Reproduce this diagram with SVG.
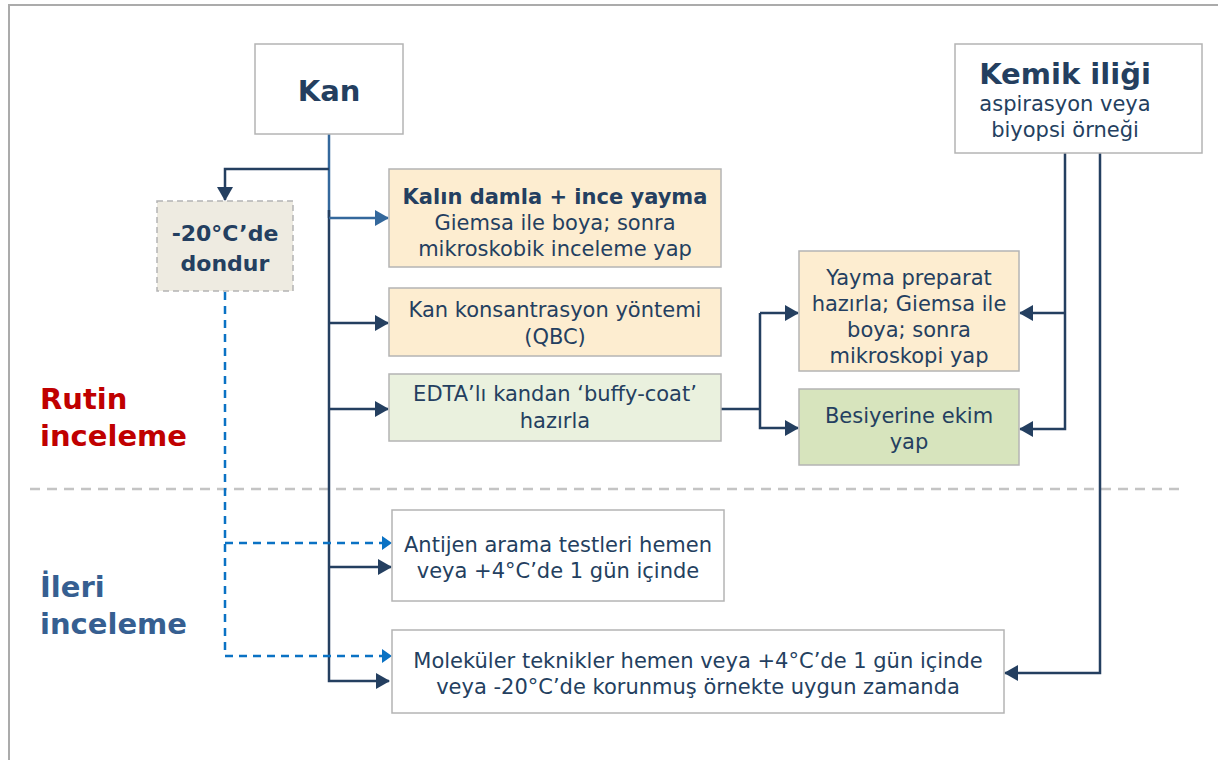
<svg xmlns="http://www.w3.org/2000/svg" width="1218" height="760" viewBox="0 0 1218 760">
  <style>
    .box { stroke: #b4b4b4; stroke-width: 1.5; }
    .white { fill: #ffffff; }
    .peach { fill: #fdedd0; }
    .pale { fill: #eaf1de; }
    .green { fill: #d7e4bd; }
    .frozen { fill: #eeebe1; stroke-dasharray: 6 4; }
    text { font-family: "DejaVu Sans", Verdana, sans-serif; fill: #243f60; text-anchor: middle; }
    .t { font-size: 21px; }
    .b { font-weight: bold; }
    .wire { fill: none; stroke: #243f60; stroke-width: 2.5; }
    .wire2 { fill: none; stroke: #34689c; stroke-width: 2.5; }
    .dash { fill: none; stroke: #0a72c4; stroke-width: 2.5; stroke-dasharray: 8 6; }
    .side { font-size: 29px; font-weight: bold; text-anchor: start; }
  </style>
  <defs>
    <marker id="ah" markerUnits="userSpaceOnUse" markerWidth="14" markerHeight="16" refX="13" refY="8" orient="auto">
      <path d="M0,0 L14,8 L0,16 Z" fill="#243f60"/>
    </marker>
    <marker id="ah2" markerUnits="userSpaceOnUse" markerWidth="14" markerHeight="16" refX="13" refY="8" orient="auto">
      <path d="M0,0 L14,8 L0,16 Z" fill="#34689c"/>
    </marker>
    <marker id="ahb" markerUnits="userSpaceOnUse" markerWidth="10" markerHeight="14" refX="9" refY="7" orient="auto">
      <path d="M0,0 L10,7 L0,14 Z" fill="#0a72c4"/>
    </marker>
  </defs>

  <!-- outer frame -->
  <path d="M9,760 V5 H1218" fill="none" stroke="#ababab" stroke-width="2"/>

  <!-- section divider -->
  <line x1="30" y1="489" x2="1180" y2="489" stroke="#c4c4c4" stroke-width="2.5" stroke-dasharray="10 7"/>

  <text class="side" x="40" y="409" style="fill:#c00000">Rutin</text>
  <text class="side" x="40" y="446" style="fill:#c00000">inceleme</text>
  <text class="side" x="40" y="597" style="fill:#365f91">İleri</text>
  <text class="side" x="40" y="634" style="fill:#365f91">inceleme</text>

  <!-- connectors -->
  <g id="connectors">
    <path class="wire2" d="M329,134 V218"/>
    <path class="wire" d="M329,210 V681 H389" marker-end="url(#ah)"/>
    <path class="wire" d="M329,169 H225 V200" marker-end="url(#ah)"/>
    <path class="wire2" d="M329,218 H388" marker-end="url(#ah2)"/>
    <path class="wire" d="M329,323 H388" marker-end="url(#ah)"/>
    <path class="wire" d="M329,409 H388" marker-end="url(#ah)"/>
    <path class="wire" d="M329,567 H391" marker-end="url(#ah)"/>
    <path class="wire" d="M721,409 H760"/>
    <path class="wire" d="M760,313 V428 H798" marker-end="url(#ah)"/>
    <path class="wire" d="M760,313 H798" marker-end="url(#ah)"/>
    <path class="wire" d="M1065,153 V429 H1020" marker-end="url(#ah)"/>
    <path class="wire" d="M1065,313 H1020" marker-end="url(#ah)"/>
    <path class="wire" d="M1100,152 V673 H1005" marker-end="url(#ah)"/>
    <path class="dash" d="M225,292 V656 H391" marker-end="url(#ahb)"/>
    <path class="dash" d="M225,543 H391" marker-end="url(#ahb)"/>
  </g>

  <g id="kan">
    <rect class="box white" x="255" y="44" width="148" height="90"/>
    <text class="b" x="329" y="101" style="font-size:29px">Kan</text>
  </g>

  <g id="kemik">
    <rect class="box white" x="955" y="44" width="247" height="109"/>
    <text class="b" x="1065" y="84" style="font-size:29px">Kemik iliği</text>
    <text class="t" x="1065" y="111">aspirasyon veya</text>
    <text class="t" x="1065" y="137">biyopsi örneği</text>
  </g>

  <g id="dondur">
    <rect class="box frozen" x="157" y="201" width="136" height="90"/>
    <text class="b" x="225" y="241" style="font-size:22px">-20°C’de</text>
    <text class="b" x="225" y="271" style="font-size:22px">dondur</text>
  </g>

  <g id="kalin">
    <rect class="box peach" x="389" y="169" width="332" height="98"/>
    <text class="t b" x="555" y="204">Kalın damla + ince yayma</text>
    <text class="t" x="555" y="230">Giemsa ile boya; sonra</text>
    <text class="t" x="555" y="256">mikroskobik inceleme yap</text>
  </g>

  <g id="qbc">
    <rect class="box peach" x="389" y="288" width="332" height="68"/>
    <text class="t" x="555" y="317">Kan konsantrasyon yöntemi</text>
    <text class="t" x="555" y="344">(QBC)</text>
  </g>

  <g id="edta">
    <rect class="box pale" x="389" y="374" width="332" height="67"/>
    <text class="t" x="555" y="401">EDTA’lı kandan ‘buffy-coat’</text>
    <text class="t" x="555" y="428">hazırla</text>
  </g>

  <g id="yayma">
    <rect class="box peach" x="799" y="251" width="220" height="120"/>
    <text class="t" x="909" y="285">Yayma preparat</text>
    <text class="t" x="909" y="311">hazırla; Giemsa ile</text>
    <text class="t" x="909" y="337">boya; sonra</text>
    <text class="t" x="909" y="363">mikroskopi yap</text>
  </g>

  <g id="besiyeri">
    <rect class="box green" x="799" y="389" width="220" height="76"/>
    <text class="t" x="909" y="423">Besiyerine ekim</text>
    <text class="t" x="909" y="449">yap</text>
  </g>

  <g id="antijen">
    <rect class="box white" x="392" y="510" width="332" height="91"/>
    <text class="t" x="558" y="552">Antijen arama testleri hemen</text>
    <text class="t" x="558" y="578">veya +4°C’de 1 gün içinde</text>
  </g>

  <g id="molekuler">
    <rect class="box white" x="392" y="630" width="612" height="83"/>
    <text class="t" x="698" y="668">Moleküler teknikler hemen veya +4°C’de 1 gün içinde</text>
    <text class="t" x="698" y="694">veya -20°C’de korunmuş örnekte uygun zamanda</text>
  </g>
</svg>
